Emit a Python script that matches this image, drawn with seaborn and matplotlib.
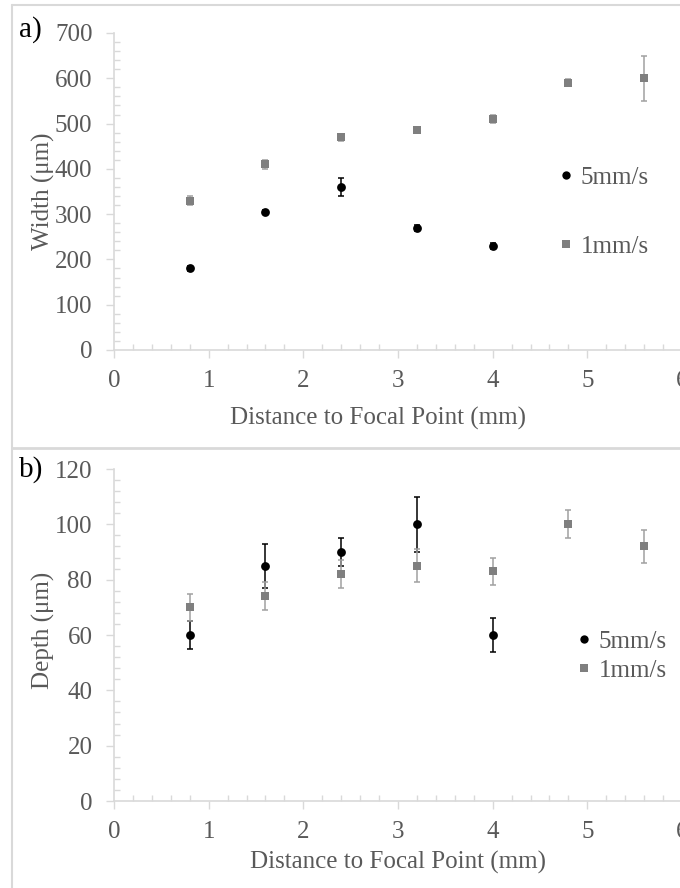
import numpy as np
import pandas as pd
import matplotlib
matplotlib.use("Agg")
import matplotlib.pyplot as plt
import seaborn as sns
from matplotlib.lines import Line2D
from matplotlib.ticker import MultipleLocator

# ---- data ----
series_names = ["5mm/s", "1mm/s"]
x_fast = [0.8, 1.6, 2.4, 3.2, 4.0]
x_slow = [0.8, 1.6, 2.4, 3.2, 4.0, 4.8, 5.6]

width_fast = [180, 305, 360, 270, 230]
width_fast_err = [5, 5, 20, 7, 7]
width_slow = [330, 410, 470, 485, 510, 590, 600]
width_slow_err = [10, 10, 8, 6, 8, 8, 50]

depth_fast = [60, 85, 90, 100, 60]
depth_fast_err = [5, 8, 5, 10, 6]
depth_slow = [70, 74, 82, 85, 83, 100, 92]
depth_slow_err = [5, 5, 5, 6, 5, 5, 6]

x_ticks = [0, 1, 2, 3, 4, 5, 6]
width_ticks = [0, 100, 200, 300, 400, 500, 600, 700]
depth_ticks = [0, 20, 40, 60, 80, 100, 120]

sns.set_style("white")
plt.rcParams["font.family"] = ["Liberation Serif", "DejaVu Serif"]

W, H = 680, 888
fig = plt.figure(figsize=(W / 100, H / 100), dpi=100)

colors = {"5mm/s": "#000000", "1mm/s": "#7f7f7f"}
err_colors = {"5mm/s": "#000000", "1mm/s": "#a0a0a0"}
markers = {"5mm/s": "o", "1mm/s": "s"}
sizes = {"5mm/s": 40, "1mm/s": 32}
TXT = "#595959"
AX = "#d9d9d9"
FS = 18


def make_df(xf, yf, ef, xs, ys, es):
    rows = []
    for x, y, e in zip(xf, yf, ef):
        rows.append(dict(x=x, y=y, err=e, speed="5mm/s"))
    for x, y, e in zip(xs, ys, es):
        rows.append(dict(x=x, y=y, err=e, speed="1mm/s"))
    return pd.DataFrame(rows)


def panel(rect, df, ylim, yticks, yminor, ylabel, letter, letter_xy,
          xlabel_xy, ylabel_xy, leg_xy, leg_spacing):
    ax = fig.add_axes(rect)
    for name in series_names:
        sub = df[df.speed == name]
        ax.errorbar(sub.x, sub.y, yerr=sub.err, fmt="none",
                    ecolor=err_colors[name], elinewidth=1.1, capsize=2.0,
                    capthick=1.1, zorder=2)
    for name in series_names:
        sub = df[df.speed == name]
        sns.scatterplot(data=sub, x="x", y="y", ax=ax, color=colors[name],
                        marker=markers[name], s=sizes[name], linewidth=0,
                        zorder=3, legend=False)
    ax.set_xlim(0, 6)
    ax.set_ylim(*ylim)
    ax.set_xticks(x_ticks)
    ax.set_yticks(yticks)
    ax.xaxis.set_minor_locator(MultipleLocator(0.2))
    ax.yaxis.set_minor_locator(MultipleLocator(yminor))
    for s in ["top", "right"]:
        ax.spines[s].set_visible(False)
    for s in ["left", "bottom"]:
        ax.spines[s].set_color(AX)
        ax.spines[s].set_linewidth(1.2)
    ax.tick_params(axis="both", which="both", bottom=True, left=True,
                   top=False, right=False)
    ax.tick_params(axis="both", which="major", direction="out", length=5.5,
                   width=1.0, color=AX, labelcolor=TXT, labelsize=FS)
    ax.tick_params(axis="x", which="major", pad=9)
    ax.tick_params(axis="y", which="major", pad=10)
    ax.tick_params(axis="both", which="minor", direction="in", length=4,
                   width=1.0, color=AX)
    ax.set_xlabel("Distance to Focal Point (mm)", fontsize=FS, color=TXT)
    ax.set_ylabel(ylabel, fontsize=FS, color=TXT)
    ax.xaxis.label.set_va("center")
    ax.yaxis.label.set_va("center")
    ax.xaxis.set_label_coords(*xlabel_xy)
    ax.yaxis.set_label_coords(*ylabel_xy)
    fig.text(letter_xy[0] / W, 1 - letter_xy[1] / H, letter, fontsize=21,
             color="black", ha="center", va="center")
    handles = [Line2D([], [], linestyle="none", marker=markers[n],
                      markersize=6.0 if n == "5mm/s" else 5.2,
                      markerfacecolor=colors[n], markeredgewidth=0)
               for n in series_names]
    ax.legend(handles, series_names, loc="center left", bbox_to_anchor=leg_xy,
              frameon=False, fontsize=FS, labelcolor=TXT, handlelength=0.8,
              handletextpad=0.2, borderpad=0, borderaxespad=0,
              labelspacing=leg_spacing)
    ax.set_facecolor("none")
    return ax


df_w = make_df(x_fast, width_fast, width_fast_err, x_slow, width_slow, width_slow_err)
df_d = make_df(x_fast, depth_fast, depth_fast_err, x_slow, depth_slow, depth_slow_err)

# pixel geometry
left = 114 / W
wid = 568 / W
top_rect = [left, (H - 350) / H, wid, 317 / H]
bot_rect = [left, (H - 801) / H, wid, 332 / H]

panel(top_rect, df_w, (0, 700), width_ticks, 20, "Width (μm)", "a)", (30, 30),
      ((377.5 - 114) / 568, (350 - 418) / 317), (-0.1235, 0.5),
      ((555.6 - 114) / 568, (350 - 212) / 317), 1.85)
panel(bot_rect, df_d, (0, 120), depth_ticks, 4, "Depth (μm)", "b)", (31, 470),
      ((398.5 - 114) / 568, (801 - 862) / 332), (-0.1235, 0.515),
      ((573.6 - 114) / 568, (801 - 656) / 332), 0.25)

# panel frames
def hline(y, x0, x1, lw=1.5):
    fig.add_artist(Line2D([x0 / W, x1 / W], [1 - y / H, 1 - y / H],
                          transform=fig.transFigure, color=AX, lw=lw))

def vline(x, y0, y1, lw=1.5):
    fig.add_artist(Line2D([x / W, x / W], [1 - y0 / H, 1 - y1 / H],
                          transform=fig.transFigure, color=AX, lw=lw))

hline(5, 12, 690)
hline(447.5, 12, 690, lw=2.0)
vline(12, 5, 900)

fig.savefig("out.png", dpi=100, facecolor="white")
